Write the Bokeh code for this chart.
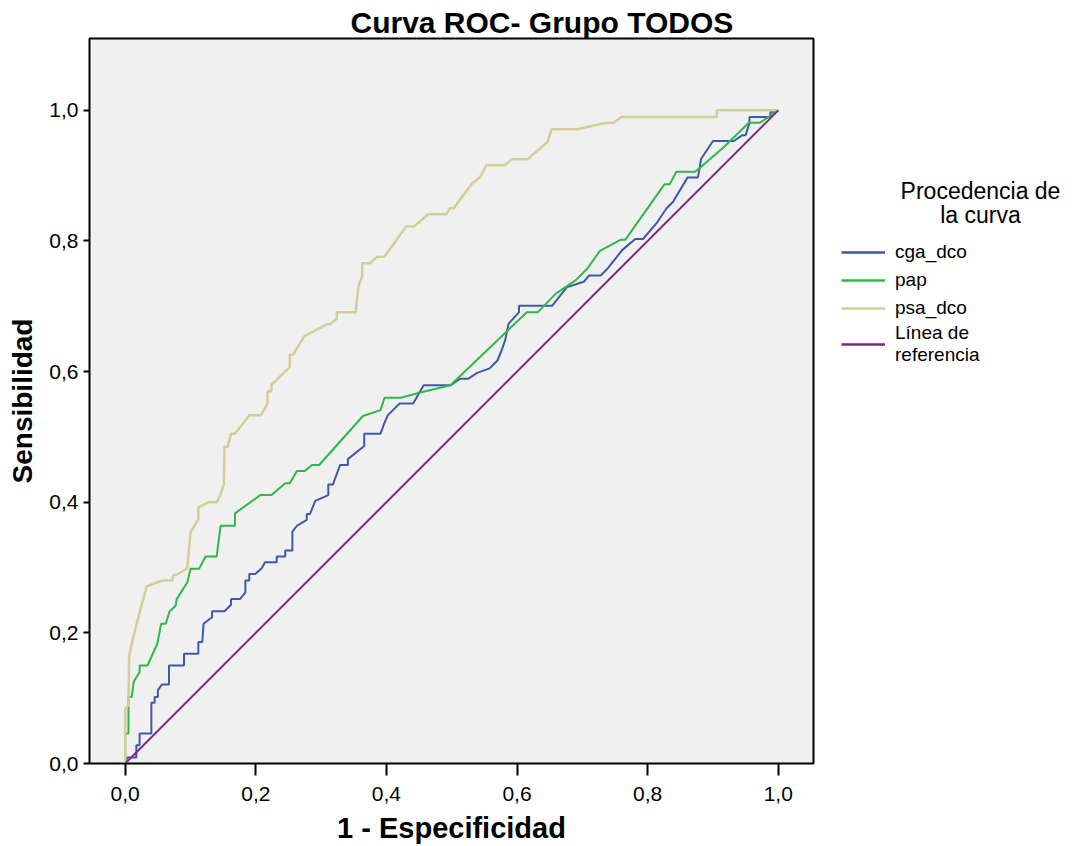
from bokeh.plotting import figure
from bokeh.layouts import row
from bokeh.models import Range1d, FixedTicker, CustomJSTickFormatter, Legend, LegendItem, Label
from bokeh.embed import file_html
from bokeh.resources import INLINE

# ---- data ----
ticks = [0.0, 0.2, 0.4, 0.6, 0.8, 1.0]

cga_x = [0, 0.003, 0.017, 0.017, 0.022, 0.022, 0.040, 0.040, 0.045, 0.045, 0.050, 0.050, 0.056, 0.067, 0.067,
         0.090, 0.090, 0.112, 0.112, 0.118, 0.120, 0.133, 0.133, 0.152, 0.162, 0.162, 0.176, 0.184, 0.184,
         0.190, 0.190, 0.199, 0.209, 0.214, 0.232, 0.232, 0.245, 0.245, 0.256, 0.256, 0.263, 0.278, 0.278,
         0.283, 0.291, 0.311, 0.311, 0.318, 0.329, 0.341, 0.341, 0.366, 0.366, 0.391, 0.396, 0.402, 0.420,
         0.441, 0.457, 0.498, 0.513, 0.525, 0.539, 0.558, 0.570, 0.577, 0.582, 0.587, 0.603, 0.603, 0.654,
         0.676, 0.703, 0.710, 0.728, 0.738, 0.761, 0.781, 0.793, 0.815, 0.829, 0.839, 0.861, 0.877, 0.882,
         0.900, 0.932, 0.945, 0.950, 0.956, 0.956, 0.988, 0.988, 1.0]
cga_y = [0, 0.009, 0.009, 0.028, 0.028, 0.046, 0.046, 0.093, 0.093, 0.102, 0.102, 0.112, 0.121, 0.121, 0.150,
         0.150, 0.168, 0.168, 0.186, 0.186, 0.214, 0.224, 0.233, 0.233, 0.243, 0.252, 0.252, 0.262, 0.280,
         0.280, 0.290, 0.290, 0.299, 0.308, 0.308, 0.317, 0.317, 0.326, 0.326, 0.355, 0.364, 0.373, 0.382,
         0.382, 0.402, 0.411, 0.427, 0.427, 0.457, 0.457, 0.466, 0.486, 0.505, 0.505, 0.519, 0.533, 0.551,
         0.551, 0.579, 0.579, 0.589, 0.589, 0.598, 0.605, 0.617, 0.634, 0.649, 0.673, 0.691, 0.701, 0.701,
         0.729, 0.738, 0.747, 0.747, 0.757, 0.786, 0.803, 0.803, 0.829, 0.850, 0.860, 0.897, 0.897, 0.926,
         0.953, 0.953, 0.962, 0.962, 0.981, 0.990, 0.990, 0.997, 1.0]

pap_x = [0, 0, 0.005, 0.005, 0.010, 0.013, 0.022, 0.022, 0.034, 0.049, 0.055, 0.062, 0.068, 0.077, 0.079,
         0.095, 0.100, 0.113, 0.123, 0.140, 0.146, 0.168, 0.168, 0.207, 0.224, 0.245, 0.252, 0.263, 0.275,
         0.286, 0.297, 0.364, 0.391, 0.397, 0.422, 0.452, 0.498, 0.615, 0.632, 0.659, 0.690, 0.707, 0.727,
         0.759, 0.766, 0.826, 0.834, 0.844, 0.873, 0.916, 0.955, 0.972, 1.0]
pap_y = [0, 0.046, 0.046, 0.102, 0.102, 0.125, 0.140, 0.150, 0.150, 0.183, 0.214, 0.214, 0.233, 0.241, 0.252,
         0.277, 0.298, 0.298, 0.317, 0.317, 0.364, 0.364, 0.383, 0.411, 0.411, 0.429, 0.429, 0.448, 0.448,
         0.457, 0.457, 0.532, 0.541, 0.560, 0.560, 0.568, 0.579, 0.691, 0.691, 0.719, 0.740, 0.757, 0.785,
         0.802, 0.802, 0.887, 0.887, 0.906, 0.906, 0.943, 0.981, 0.981, 1.0]

psa_x = [0, 0, 0.005, 0.006, 0.013, 0.025, 0.033, 0.056, 0.072, 0.074, 0.079, 0.095, 0.100, 0.112, 0.112,
         0.128, 0.140, 0.146, 0.151, 0.152, 0.157, 0.162, 0.168, 0.190, 0.208, 0.218, 0.218, 0.224, 0.224,
         0.252, 0.252, 0.257, 0.274, 0.308, 0.313, 0.324, 0.324, 0.353, 0.357, 0.363, 0.363, 0.375, 0.386,
         0.397, 0.430, 0.442, 0.464, 0.492, 0.497, 0.503, 0.531, 0.543, 0.553, 0.581, 0.592, 0.616, 0.647,
         0.653, 0.692, 0.737, 0.748, 0.760, 0.906, 0.906, 1.0]
psa_y = [0, 0.084, 0.089, 0.165, 0.196, 0.242, 0.271, 0.280, 0.280, 0.289, 0.289, 0.299, 0.354, 0.374, 0.392,
         0.400, 0.400, 0.412, 0.427, 0.485, 0.485, 0.505, 0.505, 0.533, 0.533, 0.552, 0.570, 0.570, 0.580,
         0.607, 0.626, 0.626, 0.654, 0.672, 0.672, 0.681, 0.691, 0.691, 0.730, 0.747, 0.766, 0.766, 0.776,
         0.776, 0.822, 0.822, 0.841, 0.841, 0.850, 0.850, 0.888, 0.897, 0.916, 0.916, 0.925, 0.925, 0.952,
         0.971, 0.971, 0.981, 0.981, 0.990, 0.990, 1.0, 1.0]

ref_x = [0.0, 1.0]
ref_y = [0.0, 1.0]

series_names = ["cga_dco", "pap", "psa_dco", "Línea de\nreferencia"]
colors = ["#3E58AC", "#2EB848", "#D3CE97", "#7B2A83"]
chart_title = "Curva ROC- Grupo TODOS"
legend_title_lines = ["Procedencia de", "la curva"]

FONT = "Liberation Sans"
series = [(cga_x, cga_y), (pap_x, pap_y), (psa_x, psa_y), (ref_x, ref_y)]
widths = [2, 2, 2.5, 2]

# ---------------- main plot ----------------
p = figure(width=815, height=846, output_backend="svg", toolbar_location=None,
           x_range=Range1d(-0.0547, 1.054), y_range=Range1d(0.0, 1.110),
           min_border_left=89, min_border_right=2, min_border_top=38, min_border_bottom=81,
           background_fill_color="#F0F0F0", border_fill_color="white")
p.grid.visible = False
p.outline_line_color = "black"
p.outline_line_width = 2

p.title.text = chart_title
p.title.align = "left"
p.title.offset = 261
p.title.standoff = 0
p.title.text_font = FONT
p.title.text_font_style = "bold"
p.title.text_font_size = "30px"
p.title.text_color = "black"

fmt = CustomJSTickFormatter(code="return tick.toFixed(1).replace('.', ',');")
for ax in (p.xaxis[0], p.yaxis[0]):
    ax.ticker = FixedTicker(ticks=ticks)
    ax.formatter = fmt
    ax.minor_tick_line_color = None
    ax.major_tick_in = 0
    ax.axis_line_color = "black"
    ax.axis_line_width = 1
    ax.major_tick_line_width = 2
    ax.major_label_text_font = FONT
    ax.major_label_text_font_size = "21px"
    ax.major_label_text_color = "black"
    ax.axis_label_text_font = FONT
    ax.axis_label_text_font_style = "bold"
    ax.axis_label_text_color = "black"

p.xaxis.major_tick_out = 12
p.xaxis.major_label_standoff = 11
p.xaxis.axis_label = "1 - Especificidad"
p.xaxis.axis_label_standoff = 8
p.xaxis.axis_label_text_font_size = "29px"
p.yaxis.major_tick_out = 6
p.yaxis.major_label_standoff = 5
p.yaxis.axis_label = "Sensibilidad"
p.yaxis.axis_label_standoff = 8
p.yaxis.axis_label_text_font_size = "28px"

for (xs, ys), c, w in zip(series, colors, widths):
    p.line(xs, ys, line_color=c, line_width=w)

# ---------------- legend panel (data units = page pixels) ----------------
q = figure(width=269, height=846, output_backend="svg", toolbar_location=None,
           x_range=Range1d(815, 1084), y_range=Range1d(765, 38),
           min_border_left=0, min_border_right=0, min_border_top=38, min_border_bottom=81,
           x_axis_location=None, y_axis_location=None,
           background_fill_color="white", border_fill_color="white")
q.grid.visible = False
q.outline_line_color = None

# same series drawn (out of view) so that the legend shows their line styles
swatches = [q.line(xs, ys, line_color=c, line_width=2.5) for (xs, ys), c in zip(series, colors)]
legend = Legend(items=[LegendItem(label=series_names[i], renderers=[r]) for i, r in enumerate(swatches)],
                location=(26, 397), glyph_width=44, glyph_height=28, label_height=28,
                spacing=0, padding=0, margin=0, label_standoff=10,
                border_line_color=None, background_fill_alpha=0,
                label_text_font=FONT, label_text_font_size="19px", label_text_color="black")
q.add_layout(legend)

for txt, yb in zip(legend_title_lines, [191, 215]):
    q.add_layout(Label(x=980, y=yb, text=txt, text_align="center", text_baseline="alphabetic",
                       text_font=FONT, text_font_size="23px", text_color="black"))

layout = row(p, q)
open("out.html", "w").write(file_html(layout, INLINE))
